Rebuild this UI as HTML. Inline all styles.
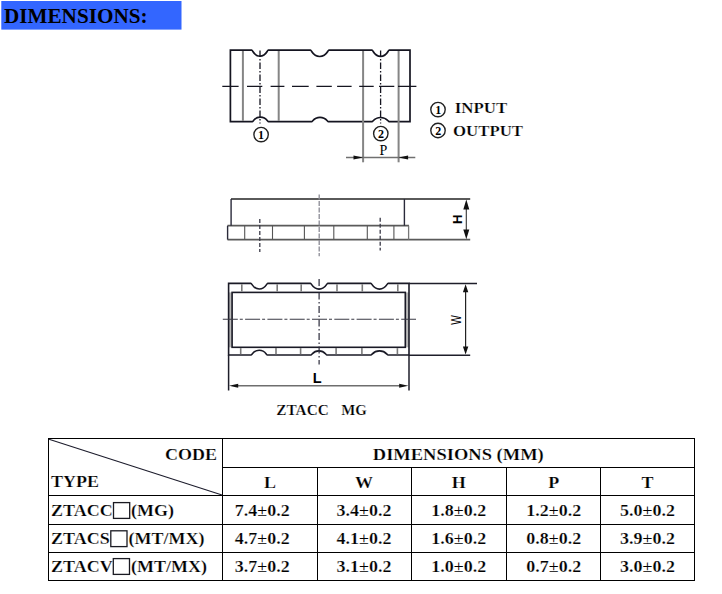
<!DOCTYPE html>
<html><head><meta charset="utf-8">
<style>
html,body{margin:0;padding:0;background:#fff;width:722px;height:594px;overflow:hidden}
svg{display:block}
.sb{font-family:"Liberation Serif",serif;font-weight:bold;fill:#000;stroke:#fff;stroke-width:0.22px}
.sr{font-family:"Liberation Serif",serif;fill:#000}
.ss{font-family:"Liberation Sans",sans-serif;fill:#000}
</style></head><body>
<svg width="722" height="594" viewBox="0 0 722 594">
<rect x="1.3" y="1" width="180.2" height="28.6" fill="#3366ff"/>
<text class="sb" style="stroke:none" x="4" y="23" font-size="20.5" textLength="143.5" lengthAdjust="spacingAndGlyphs">DIMENSIONS:</text>
<path d="M230.4,50.2 H251.70 C252.90,50.2 253.76,56.20 260.00,56.20 C266.24,56.20 267.10,50.2 268.30,50.2 H310.50 C311.70,50.2 312.76,56.50 319.70,56.50 C326.64,56.50 327.70,50.2 328.90,50.2 H372.00 C373.20,50.2 374.13,56.40 380.60,56.40 C387.07,56.40 388.00,50.2 389.20,50.2 H410.0 V121.7 H389.20 C388.00,121.7 387.07,117.50 380.60,117.50 C374.13,117.50 373.20,121.7 372.00,121.7 H328.40 C327.20,121.7 326.32,117.40 320.00,117.40 C313.68,117.40 312.80,121.7 311.60,121.7 H268.60 C267.40,121.7 266.56,117.10 260.40,117.10 C254.24,117.10 253.40,121.7 252.20,121.7 H230.4 Z" fill="none" stroke="#141420" stroke-width="1.7"/>
<g stroke="#858585" stroke-width="2">
<line x1="242.9" y1="51.0" x2="242.9" y2="120.9"/>
<line x1="278.7" y1="51.0" x2="278.7" y2="120.9"/>
<line x1="363.1" y1="51.0" x2="363.1" y2="162.3"/>
<line x1="398.6" y1="51.0" x2="398.6" y2="162.3"/>
</g>
<g stroke="#151520" stroke-width="1.3" stroke-dasharray="6.5,2,1.5,2">
<line x1="260" y1="50.5" x2="260" y2="123.5"/>
<line x1="380.6" y1="50.5" x2="380.6" y2="123.5"/>
</g>
<path d="M222.3,86.3 H238.6 M247,86.3 H262.3 M270.6,86.3 H284.4 M292,86.3 H308.7 M316.4,86.3 H331.8 M337.1,86.3 H351.6 M359.2,86.3 H373.7 M379,86.3 H394.3 M398,86.3 H416.4" stroke="#151520" stroke-width="1.25" fill="none"/>
<g fill="none" stroke="#222" stroke-width="1.4">
<circle cx="261.1" cy="134.6" r="7.2"/>
<circle cx="380.8" cy="133.6" r="7.2"/>
<circle cx="438" cy="109.6" r="7.2"/>
<circle cx="438" cy="130.5" r="7.2"/>
</g>
<g class="sb" font-size="12" text-anchor="middle" style="stroke:none">
<text x="261" y="138.9">1</text>
<text x="381" y="137.9">2</text>
<text x="438.2" y="113.9">1</text>
<text x="438.2" y="134.8">2</text>
</g>
<text class="sb" x="454.8" y="112.5" font-size="14" textLength="52.5" lengthAdjust="spacingAndGlyphs">INPUT</text>
<text class="sb" x="453" y="135.8" font-size="14.5" textLength="70" lengthAdjust="spacingAndGlyphs">OUTPUT</text>
<line x1="346" y1="157.5" x2="415.3" y2="157.5" stroke="#707070" stroke-width="1.5"/>
<path d="M363,157.5 l-9.5,-2.1 v4.2 z M398.6,157.5 l9.5,-2.1 v4.2 z" fill="#111"/>
<text class="sr" x="383.5" y="154.9" font-size="14" text-anchor="middle">P</text>
<g fill="none" stroke="#5a5a5a" stroke-width="1.8">
<line x1="231" y1="199" x2="470.2" y2="199"/>
<line x1="227.5" y1="225.7" x2="409" y2="225.7"/>
<line x1="227.5" y1="239.6" x2="470.2" y2="239.6"/>
</g>
<g stroke="#2a2a3a" stroke-width="1.4">
<line x1="231.1" y1="199" x2="231.1" y2="225.7"/>
<line x1="404.4" y1="199" x2="404.4" y2="225.7"/>
<line x1="227.6" y1="225.7" x2="227.6" y2="239.6"/>
</g>
<line x1="408.6" y1="225.7" x2="408.6" y2="239.6" stroke="#777" stroke-width="1.3"/>
<g stroke="#555" stroke-width="1.1">
<line x1="244.7" y1="225.7" x2="244.7" y2="239.6"/>
<line x1="272.5" y1="225.7" x2="272.5" y2="239.6"/>
<line x1="304.4" y1="225.7" x2="304.4" y2="239.6"/>
<line x1="333.8" y1="225.7" x2="333.8" y2="239.6"/>
<line x1="367.3" y1="225.7" x2="367.3" y2="239.6"/>
<line x1="393.9" y1="225.7" x2="393.9" y2="239.6"/>
</g>
<g stroke="#3a3a48" stroke-width="1.3" stroke-dasharray="4,2">
<line x1="259.8" y1="219" x2="259.8" y2="252"/>
<line x1="380.2" y1="217.7" x2="380.2" y2="250.6"/>
</g>
<line x1="319.2" y1="194.5" x2="319.2" y2="256.3" stroke="#8a8a94" stroke-width="1.3" stroke-dasharray="5,1.5"/>
<line x1="466.3" y1="205" x2="466.3" y2="234" stroke="#333" stroke-width="1.1"/>
<path d="M466.3,199.6 l-3,9.8 h6 z M466.3,239.2 l-3,-9.8 h6 z" fill="#111"/>
<text class="ss" x="0" y="0" font-size="13" font-weight="bold" text-anchor="middle" transform="translate(461.5,219.3) rotate(-90)">H</text>
<rect x="228.6" y="292.4" width="3.5" height="54.9" fill="#bbb"/>
<rect x="405.3" y="292.4" width="3.7" height="54.9" fill="#bbb"/>
<path d="M228.6,283.4 H250.90 C252.10,283.4 252.98,289.00 259.30,289.00 C265.62,289.00 266.50,283.4 267.70,283.4 H310.50 C311.70,283.4 312.63,289.10 319.10,289.10 C325.57,289.10 326.50,283.4 327.70,283.4 H370.90 C372.10,283.4 373.03,289.10 379.50,289.10 C385.97,289.10 386.90,283.4 388.10,283.4 H409.0 V355.0 H388.10 C386.90,355.0 385.97,350.90 379.50,350.90 C373.03,350.90 372.10,355.0 370.90,355.0 H326.90 C325.70,355.0 324.91,350.90 318.90,350.90 C312.89,350.90 312.10,355.0 310.90,355.0 H267.40 C266.20,355.0 265.36,350.30 259.20,350.30 C253.04,350.30 252.20,355.0 251.00,355.0 H228.6 Z" fill="none" stroke="#1a1a26" stroke-width="1.6"/>
<rect x="232.1" y="292.4" width="173.2" height="54.9" fill="none" stroke="#1a1a26" stroke-width="1.6"/>
<g stroke="#7a7a7a" stroke-width="1.6">
<line x1="241.8" y1="284.2" x2="241.8" y2="291.6"/>
<line x1="277.2" y1="284.2" x2="277.2" y2="291.6"/>
<line x1="301.2" y1="284.2" x2="301.2" y2="291.6"/>
<line x1="337.0" y1="284.2" x2="337.0" y2="291.6"/>
<line x1="362.3" y1="284.2" x2="362.3" y2="291.6"/>
<line x1="397.8" y1="284.2" x2="397.8" y2="291.6"/>
<line x1="240.7" y1="348.1" x2="240.7" y2="354.2"/>
<line x1="276.0" y1="348.1" x2="276.0" y2="354.2"/>
<line x1="300.6" y1="348.1" x2="300.6" y2="354.2"/>
<line x1="336.1" y1="348.1" x2="336.1" y2="354.2"/>
<line x1="361.9" y1="348.1" x2="361.9" y2="354.2"/>
<line x1="397.4" y1="348.1" x2="397.4" y2="354.2"/>
</g>
<line x1="319.1" y1="279" x2="319.1" y2="364.5" stroke="#2a2a3a" stroke-width="1.2" stroke-dasharray="7,2.5,1.5,2.5"/>
<line x1="222.8" y1="319.3" x2="416" y2="319.3" stroke="#3a3a44" stroke-width="1.1" stroke-dasharray="15,2,3,2.3"/>
<g stroke="#1e1e2a" stroke-width="1.5">
<line x1="228.6" y1="355.0" x2="228.6" y2="390.5"/>
<line x1="409.0" y1="355.0" x2="409.0" y2="390.5"/>
<line x1="409.0" y1="283.4" x2="477" y2="283.4"/>
<line x1="409.0" y1="355.2" x2="470.2" y2="355.2"/>
</g>
<line x1="236" y1="385.7" x2="402" y2="385.7" stroke="#6e6e6e" stroke-width="1.6"/>
<line x1="465.6" y1="290" x2="465.6" y2="350" stroke="#222" stroke-width="1.2"/>
<path d="M229,385.7 l9.2,-2.0 v4.0 z M408.4,385.7 l-9.2,-2.0 v4.0 z M465.6,284.2 l-2.7,8 h5.4 z M465.6,354.6 l-2.7,-8 h5.4 z" fill="#111"/>
<text class="ss" x="317.2" y="382.8" font-size="14.5" font-weight="bold" text-anchor="middle">L</text>
<text class="ss" x="0" y="0" font-size="14" text-anchor="middle" textLength="9.6" lengthAdjust="spacingAndGlyphs" transform="translate(460.9,320) rotate(-90)">W</text>
<text class="sb" x="276.3" y="414.8" font-size="14" textLength="52.5" lengthAdjust="spacingAndGlyphs">ZTACC</text>
<text class="sb" x="341.2" y="414.8" font-size="14" textLength="25.6" lengthAdjust="spacingAndGlyphs">MG</text>
<g stroke="#000" stroke-width="1" shape-rendering="crispEdges">
<line x1="48" y1="438.5" x2="695" y2="438.5"/>
<line x1="222" y1="467.5" x2="695" y2="467.5"/>
<line x1="48" y1="495.5" x2="695" y2="495.5"/>
<line x1="48" y1="524.5" x2="695" y2="524.5"/>
<line x1="48" y1="552.5" x2="695" y2="552.5"/>
<line x1="48" y1="580.5" x2="695" y2="580.5"/>
<line x1="48.5" y1="438" x2="48.5" y2="581"/>
<line x1="222.5" y1="438" x2="222.5" y2="581"/>
<line x1="317.5" y1="467" x2="317.5" y2="581"/>
<line x1="411.5" y1="467" x2="411.5" y2="581"/>
<line x1="506.5" y1="467" x2="506.5" y2="581"/>
<line x1="600.5" y1="467" x2="600.5" y2="581"/>
<line x1="694.5" y1="438" x2="694.5" y2="581"/>
</g>
<line x1="49" y1="439.2" x2="222" y2="495" stroke="#1c1c2c" stroke-width="1.1"/>
<g class="sb" font-size="18">
<text x="217" y="459.9" transform="matrix(1,0,0,0.925,0,34.492)" text-anchor="end">CODE</text>
<text x="51" y="486.7" transform="matrix(1,0,0,0.925,0,36.502)" >TYPE</text>
<text x="372.8" y="460" transform="matrix(1,0,0,0.925,0,34.500)" textLength="171" lengthAdjust="spacingAndGlyphs">DIMENSIONS (MM)</text>
<text x="270" y="487.8" transform="matrix(1,0,0,0.925,0,36.585)" text-anchor="middle">L</text>
<text x="364" y="487.8" transform="matrix(1,0,0,0.925,0,36.585)" text-anchor="middle">W</text>
<text x="458.8" y="487.8" transform="matrix(1,0,0,0.925,0,36.585)" text-anchor="middle">H</text>
<text x="553.7" y="487.8" transform="matrix(1,0,0,0.925,0,36.585)" text-anchor="middle">P</text>
<text x="647.5" y="487.8" transform="matrix(1,0,0,0.925,0,36.585)" text-anchor="middle">T</text>
<text x="262.2" y="515.8" transform="matrix(1,0,0,0.925,0,38.685)" text-anchor="middle">7.4<tspan font-weight="normal" stroke="none">±</tspan>0.2</text>
<text x="364" y="515.8" transform="matrix(1,0,0,0.925,0,38.685)" text-anchor="middle">3.4<tspan font-weight="normal" stroke="none">±</tspan>0.2</text>
<text x="458.8" y="515.8" transform="matrix(1,0,0,0.925,0,38.685)" text-anchor="middle">1.8<tspan font-weight="normal" stroke="none">±</tspan>0.2</text>
<text x="553.7" y="515.8" transform="matrix(1,0,0,0.925,0,38.685)" text-anchor="middle">1.2<tspan font-weight="normal" stroke="none">±</tspan>0.2</text>
<text x="647.5" y="515.8" transform="matrix(1,0,0,0.925,0,38.685)" text-anchor="middle">5.0<tspan font-weight="normal" stroke="none">±</tspan>0.2</text>
<text x="262.2" y="544.0" transform="matrix(1,0,0,0.925,0,40.800)" text-anchor="middle">4.7<tspan font-weight="normal" stroke="none">±</tspan>0.2</text>
<text x="364" y="544.0" transform="matrix(1,0,0,0.925,0,40.800)" text-anchor="middle">4.1<tspan font-weight="normal" stroke="none">±</tspan>0.2</text>
<text x="458.8" y="544.0" transform="matrix(1,0,0,0.925,0,40.800)" text-anchor="middle">1.6<tspan font-weight="normal" stroke="none">±</tspan>0.2</text>
<text x="553.7" y="544.0" transform="matrix(1,0,0,0.925,0,40.800)" text-anchor="middle">0.8<tspan font-weight="normal" stroke="none">±</tspan>0.2</text>
<text x="647.5" y="544.0" transform="matrix(1,0,0,0.925,0,40.800)" text-anchor="middle">3.9<tspan font-weight="normal" stroke="none">±</tspan>0.2</text>
<text x="262.2" y="571.6" transform="matrix(1,0,0,0.925,0,42.870)" text-anchor="middle">3.7<tspan font-weight="normal" stroke="none">±</tspan>0.2</text>
<text x="364" y="571.6" transform="matrix(1,0,0,0.925,0,42.870)" text-anchor="middle">3.1<tspan font-weight="normal" stroke="none">±</tspan>0.2</text>
<text x="458.8" y="571.6" transform="matrix(1,0,0,0.925,0,42.870)" text-anchor="middle">1.0<tspan font-weight="normal" stroke="none">±</tspan>0.2</text>
<text x="553.7" y="571.6" transform="matrix(1,0,0,0.925,0,42.870)" text-anchor="middle">0.7<tspan font-weight="normal" stroke="none">±</tspan>0.2</text>
<text x="647.5" y="571.6" transform="matrix(1,0,0,0.925,0,42.870)" text-anchor="middle">3.0<tspan font-weight="normal" stroke="none">±</tspan>0.2</text>
<text x="51" y="515.8" transform="matrix(1,0,0,0.925,0,38.685)" >ZTACC</text>
<text x="131" y="515.8" transform="matrix(1,0,0,0.925,0,38.685)" >(MG)</text>
<text x="51" y="544.0" transform="matrix(1,0,0,0.925,0,40.800)" >ZTACS</text>
<text x="128.5" y="544.0" transform="matrix(1,0,0,0.925,0,40.800)" >(MT/MX)</text>
<text x="51" y="571.6" transform="matrix(1,0,0,0.925,0,42.870)" >ZTACV</text>
<text x="131" y="571.6" transform="matrix(1,0,0,0.925,0,42.870)" >(MT/MX)</text>
</g>
<g fill="none" stroke="#1a1a22" stroke-width="1.3">
<rect x="113.5" y="502.6" width="16.2" height="15.8"/>
<rect x="110.8" y="530.8" width="16.2" height="15.8"/>
<rect x="113.3" y="558.6" width="16.2" height="15.8"/>
</g>
</svg>
</body></html>
